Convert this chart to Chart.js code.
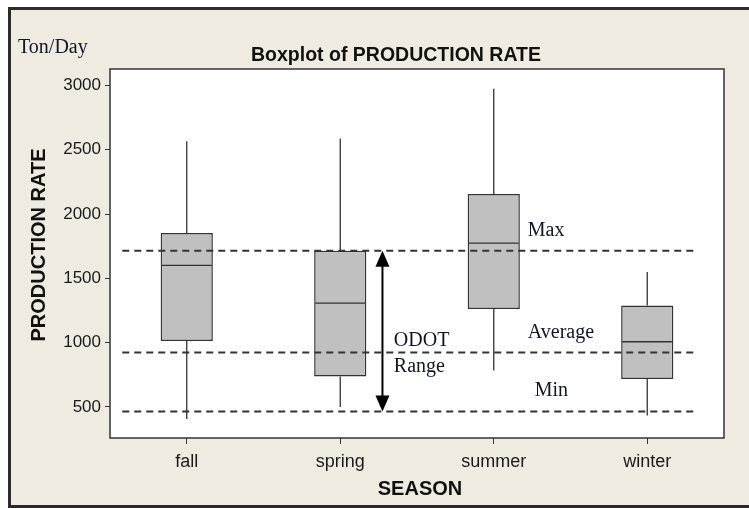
<!DOCTYPE html>
<html>
<head>
<meta charset="utf-8">
<script src="https://cdn.jsdelivr.net/npm/chart.js@4.4.1/dist/chart.umd.min.js"></script>
<style>
  html, body { margin: 0; padding: 0; background: #fff; overflow: hidden; }
  #frame { position: absolute; left: 8px; top: 7px; width: 800px; height: 495px; border: 3px solid #2b2b2b; background: #efebe1; }
  #wrap { position: absolute; left: 0; top: 0; width: 749px; height: 508px; }
</style>
</head>
<body>
<div id="frame"></div>
<div id="wrap"><canvas id="boxChart" width="749" height="508"></canvas></div>
<script>
const seasons = ['fall', 'spring', 'summer', 'winter'];
const whiskerLow = [406, 500, 784, 434];
const q1 = [1012, 737, 1261, 717];
const medians = [1600, 1308, 1774, 1007];
const q3 = [1852, 1715, 2155, 1289];
const whiskerHigh = [2565, 2586, 2974, 1549];
const odotLevels = [1715, 924, 465]; // max, average, min
const yTicks = [500, 1000, 1500, 2000, 2500, 3000];

const SANS = "'Liberation Sans', Arial, sans-serif";
const SERIF = "'Liberation Serif', 'Times New Roman', serif";

// text notes in data coords (x = category index, y = value)
const notes = [
    { text: 'Max', x: 2.222, y: 1831 },
    { text: 'Average', x: 2.222, y: 1038 },
    { text: 'Min', x: 2.267, y: 587 },
    { text: 'ODOT', x: 1.349, y: 976 },
    { text: 'Range', x: 1.349, y: 774 }
];

const boxExtras = {
    id: 'boxExtras',
    beforeDraw(chart) {
        const { ctx, chartArea: a } = chart;
        ctx.save();
        ctx.fillStyle = '#fff';
        ctx.fillRect(a.left, a.top, a.right - a.left, a.bottom - a.top);
        ctx.restore();
    },
    afterDatasetsDraw(chart) {
        const { ctx, scales: { x, y } } = chart;
        const bars = chart.getDatasetMeta(0).data;
        ctx.save();
        ctx.strokeStyle = '#333';
        ctx.lineWidth = 1.3;
        bars.forEach((bar, i) => {
            const half = bar.width / 2;
            const m = y.getPixelForValue(medians[i]);
            ctx.beginPath();
            ctx.moveTo(bar.x, y.getPixelForValue(q3[i]));
            ctx.lineTo(bar.x, y.getPixelForValue(whiskerHigh[i]));
            ctx.moveTo(bar.x, y.getPixelForValue(q1[i]));
            ctx.lineTo(bar.x, y.getPixelForValue(whiskerLow[i]));
            ctx.moveTo(bar.x - half + 1, m);
            ctx.lineTo(bar.x + half - 1, m);
            ctx.stroke();
        });

        // ODOT reference lines
        ctx.setLineDash([7, 5]);
        ctx.lineWidth = 2;
        ctx.strokeStyle = '#333';
        odotLevels.forEach(v => {
            const py = y.getPixelForValue(v);
            ctx.beginPath();
            ctx.moveTo(x.getPixelForValue(-0.42), py);
            ctx.lineTo(x.getPixelForValue(3.33), py);
            ctx.stroke();
        });
        ctx.setLineDash([]);

        // double arrow for the range
        const ax = x.getPixelForValue(1.275);
        const top = y.getPixelForValue(odotLevels[0]);
        const bot = y.getPixelForValue(odotLevels[2]);
        ctx.strokeStyle = '#000';
        ctx.fillStyle = '#000';
        ctx.lineWidth = 2;
        ctx.beginPath();
        ctx.moveTo(ax, top + 12);
        ctx.lineTo(ax, bot - 12);
        ctx.stroke();
        ctx.beginPath();
        ctx.moveTo(ax, top);
        ctx.lineTo(ax - 7, top + 16);
        ctx.lineTo(ax + 7, top + 16);
        ctx.closePath();
        ctx.fill();
        ctx.beginPath();
        ctx.moveTo(ax, bot);
        ctx.lineTo(ax - 7, bot - 16);
        ctx.lineTo(ax + 7, bot - 16);
        ctx.closePath();
        ctx.fill();

        ctx.fillStyle = '#141428';
        ctx.font = '20px ' + SERIF;
        ctx.textAlign = 'left';
        ctx.textBaseline = 'alphabetic';
        notes.forEach(n => {
            ctx.fillText(n.text, x.getPixelForValue(n.x), y.getPixelForValue(n.y));
        });
        ctx.restore();
    },
    afterDraw(chart) {
        const { ctx, chartArea: a } = chart;
        ctx.save();
        ctx.strokeStyle = '#333';
        ctx.lineWidth = 1.5;
        ctx.strokeRect(a.left, a.top, a.right - a.left, a.bottom - a.top);

        ctx.fillStyle = '#111';
        ctx.textAlign = 'center';
        ctx.textBaseline = 'alphabetic';
        ctx.font = 'bold 19.5px ' + SANS;
        ctx.fillText('Boxplot of PRODUCTION RATE', 396, 61);
        ctx.font = 'bold 20px ' + SANS;
        ctx.textBaseline = 'middle';
        ctx.fillText('SEASON', 420, 489);
        ctx.save();
        ctx.translate(39, 245);
        ctx.rotate(-Math.PI / 2);
        ctx.fillText('PRODUCTION RATE', 0, 0);
        ctx.restore();

        ctx.fillStyle = '#141428';
        ctx.textAlign = 'left';
        ctx.textBaseline = 'alphabetic';
        ctx.font = '20px ' + SERIF;
        ctx.fillText('Ton/Day', 18, 53);
        ctx.restore();
    }
};

const ctx = document.getElementById('boxChart').getContext('2d');
new Chart(ctx, {
    type: 'bar',
    data: {
        labels: seasons,
        datasets: [{
            label: 'PRODUCTION RATE',
            data: q1.map((v, i) => [v, q3[i]]),
            backgroundColor: '#c0c0c0',
            borderColor: '#333',
            borderWidth: 1.5,
            borderSkipped: false,
            barPercentage: 0.34,
            categoryPercentage: 1
        }]
    },
    options: {
        responsive: false,
        animation: false,
        layout: { padding: { left: 0, top: 69, right: 25, bottom: 0 } },
        plugins: {
            legend: { display: false },
            title: { display: false },
            tooltip: { enabled: false }
        },
        scales: {
            x: {
                offset: true,
                grid: { offset: false, drawOnChartArea: false, drawTicks: true, tickLength: 6, color: '#333' },
                border: { display: false },
                ticks: { color: '#1a1a1a', padding: 7, font: { family: SANS, size: 18 } },
                afterFit(scale) { scale.height = 70; }
            },
            y: {
                min: 259,
                max: 3127,
                grid: { drawOnChartArea: false, drawTicks: true, tickLength: 5, color: '#333' },
                border: { display: false },
                ticks: {
                    color: '#1a1a1a',
                    padding: 4,
                    font: { family: SANS, size: 17 },
                    callback: v => String(v)
                },
                afterBuildTicks(scale) { scale.ticks = yTicks.map(v => ({ value: v })); },
                afterFit(scale) { scale.width = 110; }
            }
        }
    },
    plugins: [boxExtras]
});
</script>
</body>
</html>
